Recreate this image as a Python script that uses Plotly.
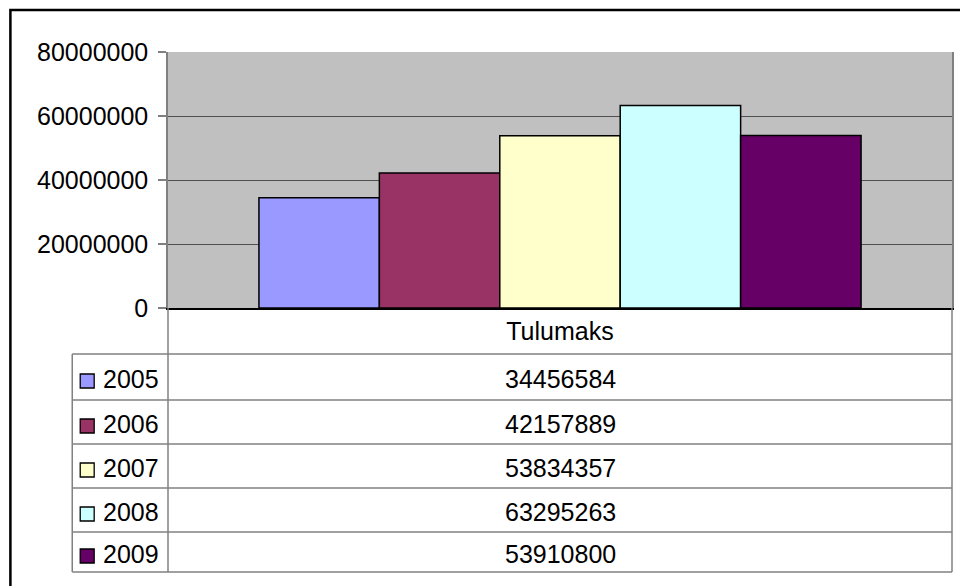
import plotly.graph_objects as go

category = ["Tulumaks"]
years = ["2005", "2006", "2007", "2008", "2009"]
values = [34456584, 42157889, 53834357, 63295263, 53910800]
colors = ["#9999FF", "#993366", "#FFFFCC", "#CCFFFF", "#660066"]
y_ticks = [0, 20000000, 40000000, 60000000, 80000000]

W, H = 960, 586
L, R, T, B = 168, 954, 52, 308  # plot area pixels

def px(x):
    return (x - L) / (R - L)

def py(y):
    return (B - y) / (B - T)

FONT = "Liberation Sans, Arial, sans-serif"

fig = go.Figure()
for yr, v, c in zip(years, values, colors):
    fig.add_trace(go.Bar(x=category, y=[v], name=yr, marker=dict(color=c, line=dict(color="black", width=1.5))))

shapes = []
grey = "#808080"
# outer frame
shapes.append(dict(type="rect", xref="paper", yref="paper", x0=px(10), x1=px(975), y0=py(10), y1=py(600),
                   line=dict(color="black", width=2.5), fillcolor="rgba(0,0,0,0)", layer="above"))
# table lines
row_edges = [354, 400, 444, 488, 532, 572]
for ry in row_edges:
    shapes.append(dict(type="line", xref="paper", yref="paper", x0=px(72), x1=px(R), y0=py(ry), y1=py(ry),
                       line=dict(color=grey, width=1.5)))
shapes.append(dict(type="line", xref="paper", yref="paper", x0=px(72), x1=px(72), y0=py(354), y1=py(572),
                   line=dict(color=grey, width=1.5)))
shapes.append(dict(type="line", xref="paper", yref="paper", x0=0, x1=0, y0=0, y1=py(572),
                   line=dict(color=grey, width=1.5)))
shapes.append(dict(type="line", xref="paper", yref="paper", x0=1, x1=1, y0=0, y1=py(572),
                   line=dict(color=grey, width=1.5)))

annotations = []
for i, (yr, v, c) in enumerate(zip(years, values, colors)):
    top, bot = row_edges[i], row_edges[i + 1]
    cy = (top + bot) / 2 + 2
    shapes.append(dict(type="rect", xref="paper", yref="paper", x0=px(80), x1=px(94), y0=py(cy - 5), y1=py(cy + 9),
                       fillcolor=c, line=dict(color="black", width=1.3)))
    annotations.append(dict(xref="paper", yref="paper", x=px(101), y=py(cy), text=yr, showarrow=False,
                            xanchor="left", yanchor="middle", font=dict(size=25, color="black", family=FONT)))
    annotations.append(dict(xref="paper", yref="paper", x=0.5, y=py(cy), text=str(v), showarrow=False,
                            xanchor="center", yanchor="middle", font=dict(size=25, color="black", family=FONT)))

fig.update_layout(
    width=W, height=H,
    margin=dict(l=L, r=W - R, t=T, b=H - B, pad=0),
    paper_bgcolor="white",
    plot_bgcolor="#C0C0C0",
    barmode="group",
    bargap=0.232,
    bargroupgap=0,
    showlegend=False,
    shapes=shapes,
    annotations=annotations,
    font=dict(family=FONT, size=25, color="black"),
)
fig.update_yaxes(
    range=[0, 80000000], tickvals=y_ticks, tickformat="d",
    showgrid=True, gridcolor="#505050", gridwidth=1.2,
    showline=True, linecolor=grey, linewidth=1.5, mirror=True,
    ticks="outside", ticklen=8, tickcolor=grey, tickwidth=1.5,
    ticklabelstandoff=5, zeroline=False,
    tickfont=dict(size=25, color="black", family=FONT),
)
fig.update_xaxes(
    showline=True, linecolor="black", linewidth=1.5,
    ticks="", ticklabelstandoff=0,
    tickfont=dict(size=25, color="black", family=FONT),
)
fig.write_html("out.html", config={"displayModeBar": False},
               post_script="document.body.style.margin='0';document.body.style.overflow='hidden';")
